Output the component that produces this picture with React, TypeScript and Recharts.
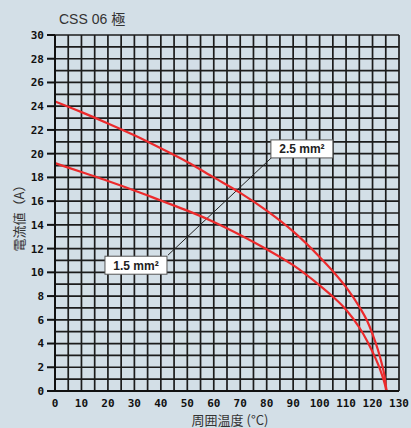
import React from 'react';
import { LineChart, Line, XAxis, YAxis, CartesianGrid, ReferenceLine, ReferenceDot } from 'recharts';

// temperature (°C) and allowed current (A)
const temps = [0, 10, 20, 30, 40, 50, 60, 70, 80, 90, 100, 105, 110, 115, 118, 120, 122, 123.5, 124.5, 125.3];
const current25 = [24.4, 23.5, 22.55, 21.55, 20.45, 19.3, 18.0, 16.7, 15.2, 13.45, 11.3, 10.1, 8.75, 7.1, 5.9, 4.8, 3.5, 2.3, 1.3, 0];
const current15 = [19.2, 18.45, 17.7, 16.9, 16.05, 15.2, 14.25, 13.15, 11.94, 10.6, 8.9, 7.95, 6.85, 5.35, 4.2, 3.3, 2.3, 1.4, 0.7, 0];

const xTicks = [0, 5, 10, 15, 20, 25, 30, 35, 40, 45, 50, 55, 60, 65, 70, 75, 80, 85, 90, 95, 100, 105, 110, 115, 120, 125, 130];
const yTicks = [0, 1, 2, 3, 4, 5, 6, 7, 8, 9, 10, 11, 12, 13, 14, 15, 16, 17, 18, 19, 20, 21, 22, 23, 24, 25, 26, 27, 28, 29, 30];

// annotation boxes (centre in data units) and the leader line joining them
const label25 = { text: '2.5 mm²', at: [93.3, 20.4] };
const label15 = { text: '1.5 mm²', at: [30.6, 10.6] };
const leader = [[42.7, 11.45], [82.0, 19.7]];

const data = temps.map((t, i) => ({ t, a25: current25[i], a15: current15[i] }));

const BG = '#d3dfe7';
const GRID = '#1c1c1c';
const RED = '#ec2a2c';
const tickFont = { fontFamily: '"DejaVu Sans Mono", monospace', fontWeight: 700, fontSize: 11, fill: '#111' };

const YTick = (props: any) => {
  const { x, y, payload } = props;
  if (payload.value % 2 !== 0) return null;
  return (
    <g>
      <line x1={x + 3} x2={x + 11} y1={y} y2={y} stroke="#111" strokeWidth={2} />
      <text x={x} y={y} dy="0.36em" textAnchor="end" {...tickFont}>{payload.value}</text>
    </g>
  );
};

const Box = (props: any) => {
  const { cx, cy, text } = props;
  return (
    <g>
      <rect x={cx - 31} y={cy - 9} width={62} height={18} fill="#fff" stroke="#555" strokeWidth={1} />
      <text x={cx} y={cy} dy="0.36em" textAnchor="middle" fontFamily="Arial, sans-serif" fontWeight={700} fontSize={12} fill="#222">{text}</text>
    </g>
  );
};

export default function App() {
  return (
    <div style={{ position: 'absolute', left: 0, top: 0, width: 411, height: 428, background: BG, fontFamily: '"Noto Sans CJK JP", sans-serif', overflow: 'hidden' }}>
      <div style={{ position: 'absolute', left: 59, top: 8, fontSize: 14, color: '#333', fontFamily: 'Arial, "Noto Sans CJK JP", sans-serif' }}>CSS 06 極</div>
      <div style={{ position: 'absolute', left: 18, top: 215, transform: 'translate(-50%, -50%) rotate(-90deg)', whiteSpace: 'nowrap', fontSize: 13, lineHeight: 1, color: '#333' }}>電流値（A）</div>
      <div style={{ position: 'absolute', left: 230, top: 419, transform: 'translate(-50%, -50%)', whiteSpace: 'nowrap', fontSize: 13, lineHeight: 1, color: '#333' }}>周囲温度 (°C)</div>
      <LineChart width={411} height={428} data={data} margin={{ top: 35, right: 12, left: 15, bottom: 17 }}>
        <CartesianGrid stroke={GRID} strokeWidth={1.7} />
        <XAxis
          dataKey="t"
          type="number"
          domain={[0, 130]}
          ticks={xTicks}
          interval={0}
          tickLine={false}
          axisLine={{ stroke: '#111', strokeWidth: 2 }}
          tickFormatter={(v: number) => (v % 10 === 0 ? String(v) : '')}
          tick={tickFont}
          height={20}
        />
        <YAxis
          type="number"
          domain={[0, 30]}
          ticks={yTicks}
          interval={0}
          tickSize={8}
          tickMargin={3}
          tickLine={false}
          axisLine={{ stroke: '#111', strokeWidth: 2 }}
          tick={<YTick />}
          width={40}
        />
        <ReferenceLine segment={[{ x: leader[0][0], y: leader[0][1] }, { x: leader[1][0], y: leader[1][1] }]} stroke="#222" strokeWidth={1} />
        <Line type="monotone" dataKey="a25" stroke={RED} strokeWidth={2.2} dot={false} isAnimationActive={false} />
        <Line type="monotone" dataKey="a15" stroke={RED} strokeWidth={2.2} dot={false} isAnimationActive={false} />
        <ReferenceDot x={label25.at[0]} y={label25.at[1]} shape={(p: any) => <Box {...p} text={label25.text} />} />
        <ReferenceDot x={label15.at[0]} y={label15.at[1]} shape={(p: any) => <Box {...p} text={label15.text} />} />
      </LineChart>
    </div>
  );
}
